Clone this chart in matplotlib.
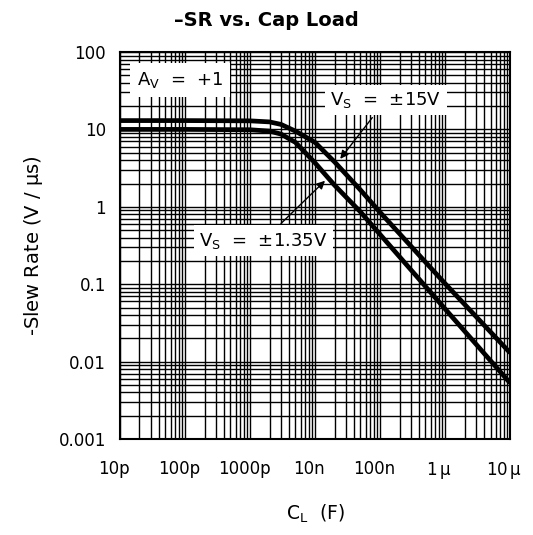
import matplotlib
matplotlib.use("Agg")
import matplotlib.pyplot as plt
import matplotlib.transforms as mtransforms
from matplotlib.ticker import LogLocator, FixedLocator, NullFormatter

plt.rcParams['mathtext.default'] = 'regular'

# load capacitance (F) and slew rate (V/us)
cap = [1e-11, 1e-10, 1e-9, 2e-9, 3e-9, 5e-9, 1e-8, 2e-8, 5e-8, 1e-7, 1e-6, 1e-5]
sr_15v = [13, 13, 12.9, 12.5, 11.6, 9.5, 6.8, 3.8, 1.65, 0.85, 0.102, 0.013]
sr_135v = [10, 10, 9.9, 9.5, 8.7, 6.8, 3.7, 1.9, 0.86, 0.44, 0.048, 0.0053]

xticks = [1e-11, 1e-10, 1e-9, 1e-8, 1e-7, 1e-6, 1e-5]
xlabels = ['10p', '100p', '1000p', '10n', '100n', '1$\\,\\mu$', '10$\\,\\mu$']
yticks = [0.001, 0.01, 0.1, 1, 10, 100]
ylabels = ['0.001', '0.01', '0.1', '1', '10', '100']

fig = plt.figure(figsize=(5.33, 5.35), dpi=100)
ax = fig.add_axes([0.225, 0.1794, 0.732, 0.7234])

ax.set_xscale('log')
ax.set_yscale('log')
ax.set_xlim(1e-11, 1e-5)
ax.set_ylim(0.001, 100)

ax.plot(cap, sr_15v, color='black', lw=3.4, solid_capstyle='butt', zorder=4)
ax.plot(cap, sr_135v, color='black', lw=3.4, solid_capstyle='butt', zorder=4)

ax.xaxis.set_major_locator(FixedLocator(xticks))
ax.yaxis.set_major_locator(FixedLocator(yticks))
ax.xaxis.set_minor_locator(LogLocator(base=10, subs=range(2, 10), numticks=20))
ax.yaxis.set_minor_locator(LogLocator(base=10, subs=range(2, 10), numticks=20))
ax.xaxis.set_minor_formatter(NullFormatter())
ax.yaxis.set_minor_formatter(NullFormatter())
ax.set_xticklabels(xlabels)
ax.set_yticklabels(ylabels)

ax.grid(True, which='both', color='black', lw=1.0)
ax.tick_params(which='both', length=0)
ax.tick_params(axis='x', pad=15, labelsize=12)
ax.tick_params(axis='y', pad=10, labelsize=12)
shift = mtransforms.ScaledTranslation(-6 / 100, 0, fig.dpi_scale_trans)
for lab in ax.get_xticklabels():
    lab.set_transform(lab.get_transform() + shift)
for s in ax.spines.values():
    s.set_linewidth(1.5)

box = dict(boxstyle='square,pad=0.3', fc='white', ec='none')
ax.text(0.154, 0.928, 'A$_V$  =  +1', transform=ax.transAxes, fontsize=13,
        ha='center', va='center', bbox=dict(boxstyle='square,pad=0.4', fc='white', ec='none'), zorder=5)
ax.annotate('V$_S$  =  ±15V', xy=(2.3e-8, 3.9), xytext=(0.682, 0.876),
            textcoords='axes fraction', fontsize=13, ha='center', va='center',
            bbox=box, zorder=5,
            arrowprops=dict(arrowstyle='-|>', color='black', lw=1, mutation_scale=12))
ax.annotate('V$_S$  =  ±1.35V', xy=(1.53e-8, 2.3), xytext=(0.367, 0.512),
            textcoords='axes fraction', fontsize=13, ha='center', va='center',
            bbox=box, zorder=5,
            arrowprops=dict(arrowstyle='-|>', color='black', lw=1, mutation_scale=12))

fig.text(0.5, 0.962, '–SR vs. Cap Load', ha='center', va='center',
         fontsize=14, fontweight='bold')
ax.set_xlabel('C$_L$  (F)', fontsize=13.5, labelpad=16)
ax.set_ylabel('-Slew Rate (V / $\\mu$s)', fontsize=14, labelpad=10)

fig.savefig('out.png', dpi=100)
